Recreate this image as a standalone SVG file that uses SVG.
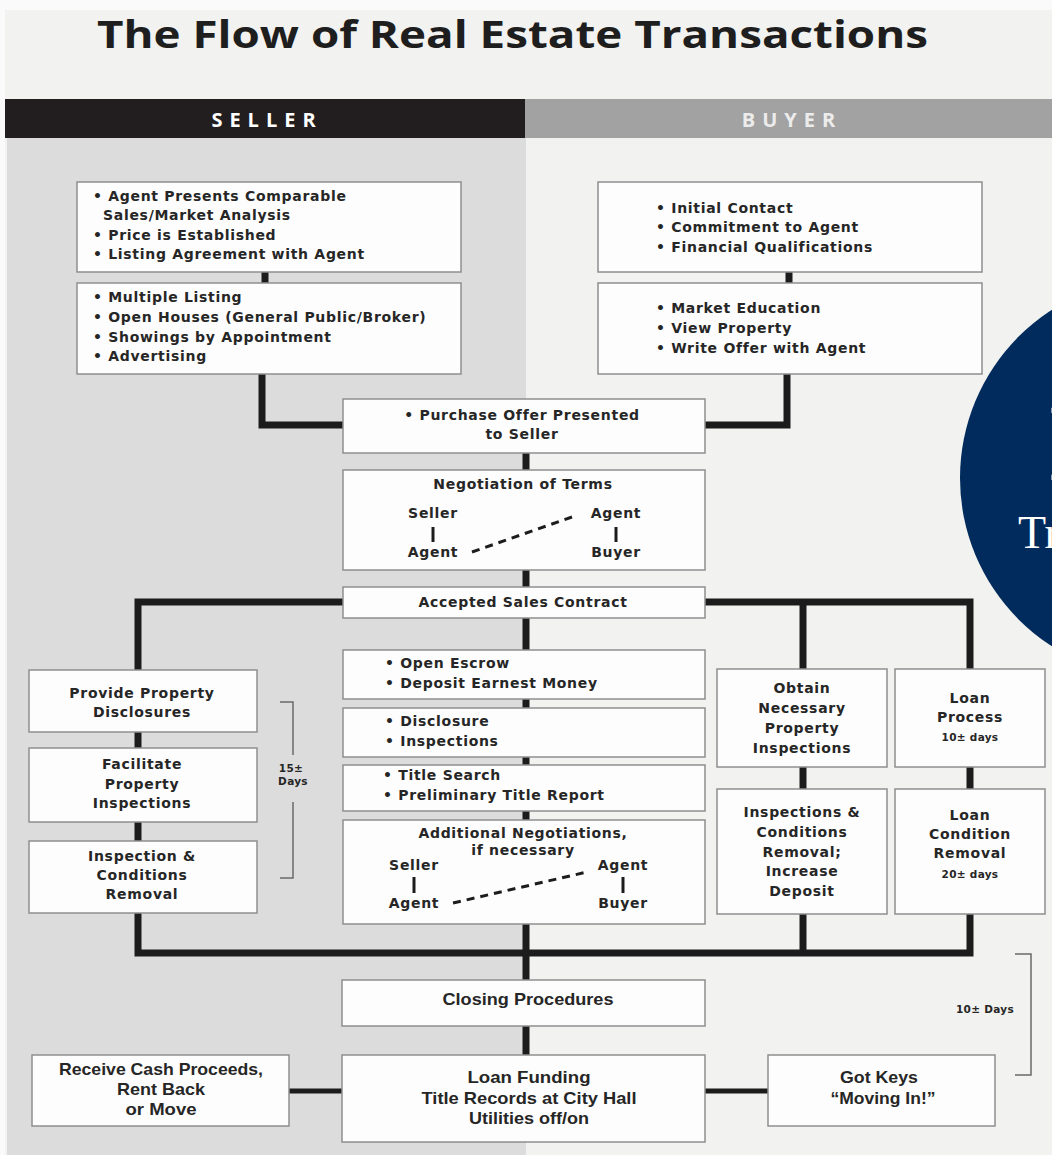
<svg xmlns="http://www.w3.org/2000/svg" width="1052" height="1155" viewBox="0 0 1052 1155">
<style>
.t{font-family:"DejaVu Sans","Open Sans",sans-serif;font-weight:700;font-size:14px;letter-spacing:0.7px;fill:#262626}
.m{text-anchor:middle}
.s{font-size:10.5px;letter-spacing:0.3px}
.n{font-family:"Liberation Sans",Arial,sans-serif;font-weight:700;font-size:17px;fill:#262626;text-anchor:middle}
.box{fill:#fdfdfd;stroke:#8e8e8e;stroke-width:1.5}
.k{fill:none;stroke:#1c1c1c;stroke-width:7;stroke-linejoin:miter}
.k5{fill:none;stroke:#1c1c1c;stroke-width:5}
.br{fill:none;stroke:#6a6a6a;stroke-width:1.5}
.d{fill:none;stroke:#1c1c1c;stroke-width:3;stroke-dasharray:8 6}
.v{fill:none;stroke:#1c1c1c;stroke-width:3}
</style>
<rect x="0" y="0" width="1052" height="1155" fill="#fafafa"/>
<rect x="5" y="10" width="1047" height="1145" fill="#f2f2f0"/>
<g id="title"><text x="97" y="48" font-family="Open Sans,Liberation Sans,sans-serif" font-weight="700" font-size="37" fill="#1e1e1e" textLength="831" lengthAdjust="spacingAndGlyphs">The Flow of Real Estate Transactions</text></g>
<g id="header">
<rect x="5" y="99" width="520" height="39" fill="#221e1f"/>
<rect x="525" y="99" width="527" height="39" fill="#a2a2a2"/>
<text x="267" y="127" font-family="Open Sans,Liberation Sans,sans-serif" font-weight="700" font-size="20" fill="#ffffff" text-anchor="middle" letter-spacing="7">SELLER</text>
<text x="792" y="127" font-family="Open Sans,Liberation Sans,sans-serif" font-weight="700" font-size="20" fill="#ececec" text-anchor="middle" letter-spacing="7">BUYER</text>
</g>
<rect x="7" y="138" width="519" height="1017" fill="#dcdcdc"/>

<g id="connectors">
<line class="k" x1="265" y1="272" x2="265" y2="283"/>
<line class="k" x1="789" y1="272" x2="789" y2="283"/>
<path class="k" d="M262 374 V425 H343"/>
<path class="k" d="M787 374 V425 H705"/>
<line class="k" x1="526" y1="453" x2="526" y2="470"/>
<line class="k" x1="526" y1="570" x2="526" y2="587"/>
<path class="k" d="M343 602 H138 V670"/>
<path class="k" d="M705 602 H970 V669"/>
<line class="k" x1="803" y1="602" x2="803" y2="669"/>
<line class="k" x1="526" y1="618" x2="526" y2="650"/>
<line class="k" x1="526" y1="699" x2="526" y2="708"/>
<line class="k" x1="526" y1="757" x2="526" y2="765"/>
<line class="k" x1="526" y1="811" x2="526" y2="820"/>
<line class="k" x1="138" y1="732" x2="138" y2="748"/>
<line class="k" x1="138" y1="822" x2="138" y2="841"/>
<line class="k" x1="803" y1="767" x2="803" y2="789"/>
<line class="k" x1="970" y1="767" x2="970" y2="789"/>
<path class="k" d="M138 913 V953 H970 V914"/>
<line class="k" x1="803" y1="914" x2="803" y2="953"/>
<line class="k" x1="526" y1="924" x2="526" y2="980"/>
<line class="k" x1="526" y1="1026" x2="526" y2="1055"/>
<line class="k5" x1="289" y1="1091" x2="342" y2="1091"/>
<line class="k5" x1="705" y1="1091" x2="768" y2="1091"/>
</g>

<g id="seller-listing">
<rect class="box" x="77" y="182" width="384" height="90"/>
<text class="t" x="93" y="201">• Agent Presents Comparable</text>
<text class="t" x="103" y="220">Sales/Market Analysis</text>
<text class="t" x="93" y="240">• Price is Established</text>
<text class="t" x="93" y="259">• Listing Agreement with Agent</text>
</g>
<g id="seller-marketing">
<rect class="box" x="77" y="283" width="384" height="91"/>
<text class="t" x="93" y="302">• Multiple Listing</text>
<text class="t" x="93" y="322">• Open Houses (General Public/Broker)</text>
<text class="t" x="93" y="342">• Showings by Appointment</text>
<text class="t" x="93" y="361">• Advertising</text>
</g>
<g id="buyer-contact">
<rect class="box" x="598" y="182" width="384" height="90"/>
<text class="t" x="656" y="213">• Initial Contact</text>
<text class="t" x="656" y="232">• Commitment to Agent</text>
<text class="t" x="656" y="252">• Financial Qualifications</text>
</g>
<g id="buyer-search">
<rect class="box" x="598" y="283" width="384" height="91"/>
<text class="t" x="656" y="313">• Market Education</text>
<text class="t" x="656" y="333">• View Property</text>
<text class="t" x="656" y="353">• Write Offer with Agent</text>
</g>
<g id="circle">
<circle cx="1160" cy="478" r="200" fill="#002b5c"/>
<text x="1046" y="480" font-family="DejaVu Serif,Liberation Serif,serif" font-size="100" fill="#ffffff">I</text>
<text x="1018" y="548" font-family="Liberation Serif,serif" font-size="46" fill="#ffffff">Tr</text>
</g>
<g id="purchase-offer">
<rect class="box" x="343" y="399" width="362" height="54"/>
<text class="t m" x="522" y="420">• Purchase Offer Presented</text>
<text class="t m" x="522" y="439">to Seller</text>
</g>
<g id="negotiation">
<rect class="box" x="343" y="470" width="362" height="100"/>
<text class="t m" x="523" y="489">Negotiation of Terms</text>
<text class="t m" x="433" y="518">Seller</text>
<line class="v" x1="433" y1="527" x2="433" y2="542"/>
<text class="t m" x="433" y="557">Agent</text>
<text class="t m" x="616" y="518">Agent</text>
<line class="v" x1="616" y1="527" x2="616" y2="542"/>
<text class="t m" x="616" y="557">Buyer</text>
<line class="d" x1="472" y1="552" x2="572" y2="517"/>
</g>
<g id="accepted">
<rect class="box" x="343" y="587" width="362" height="31"/>
<text class="t m" x="523" y="607">Accepted Sales Contract</text>
</g>
<g id="provide-disclosures">
<rect class="box" x="29" y="670" width="228" height="62"/>
<text class="t m" x="142" y="698">Provide Property</text>
<text class="t m" x="142" y="717">Disclosures</text>
</g>
<g id="facilitate">
<rect class="box" x="29" y="748" width="228" height="74"/>
<text class="t m" x="142" y="769">Facilitate</text>
<text class="t m" x="142" y="789">Property</text>
<text class="t m" x="142" y="808">Inspections</text>
</g>
<g id="seller-removal">
<rect class="box" x="29" y="841" width="228" height="72"/>
<text class="t m" x="142" y="861">Inspection &amp;</text>
<text class="t m" x="142" y="880">Conditions</text>
<text class="t m" x="142" y="899">Removal</text>
</g>
<g id="days15">
<path class="br" d="M280 702 H293 V755 M293 802 V878 H280"/>
<text class="t m s" x="291" y="772">15±</text>
<text class="t m s" x="293" y="785">Days</text>
</g>
<g id="escrow">
<rect class="box" x="343" y="650" width="362" height="49"/>
<text class="t" x="385" y="668">• Open Escrow</text>
<text class="t" x="385" y="688">• Deposit Earnest Money</text>
</g>
<g id="disclosure">
<rect class="box" x="343" y="708" width="362" height="49"/>
<text class="t" x="385" y="726">• Disclosure</text>
<text class="t" x="385" y="746">• Inspections</text>
</g>
<g id="title-search">
<rect class="box" x="343" y="765" width="362" height="46"/>
<text class="t" x="383" y="780">• Title Search</text>
<text class="t" x="383" y="800">• Preliminary Title Report</text>
</g>
<g id="additional">
<rect class="box" x="343" y="820" width="362" height="104"/>
<text class="t m" x="523" y="838">Additional Negotiations,</text>
<text class="t m" x="523" y="855">if necessary</text>
<text class="t m" x="414" y="870">Seller</text>
<line class="v" x1="414" y1="877" x2="414" y2="893"/>
<text class="t m" x="414" y="908">Agent</text>
<text class="t m" x="623" y="870">Agent</text>
<line class="v" x1="623" y1="877" x2="623" y2="893"/>
<text class="t m" x="623" y="908">Buyer</text>
<line class="d" x1="453" y1="903" x2="587" y2="872"/>
</g>
<g id="obtain">
<rect class="box" x="717" y="669" width="170" height="98"/>
<text class="t m" x="802" y="693">Obtain</text>
<text class="t m" x="802" y="713">Necessary</text>
<text class="t m" x="802" y="733">Property</text>
<text class="t m" x="802" y="753">Inspections</text>
</g>
<g id="loan-process">
<rect class="box" x="895" y="669" width="150" height="98"/>
<text class="t m" x="970" y="703">Loan</text>
<text class="t m" x="970" y="722">Process</text>
<text class="t m s" x="970" y="741">10± days</text>
</g>
<g id="buyer-removal">
<rect class="box" x="717" y="789" width="170" height="125"/>
<text class="t m" x="802" y="817">Inspections &amp;</text>
<text class="t m" x="802" y="837">Conditions</text>
<text class="t m" x="802" y="857">Removal;</text>
<text class="t m" x="802" y="876">Increase</text>
<text class="t m" x="802" y="896">Deposit</text>
</g>
<g id="loan-condition">
<rect class="box" x="895" y="789" width="150" height="125"/>
<text class="t m" x="970" y="820">Loan</text>
<text class="t m" x="970" y="839">Condition</text>
<text class="t m" x="970" y="858">Removal</text>
<text class="t m s" x="970" y="878">20± days</text>
</g>
<g id="closing">
<rect class="box" x="342" y="980" width="363" height="46"/>
<text class="n" x="528" y="1005" textLength="171" lengthAdjust="spacingAndGlyphs">Closing Procedures</text>
</g>
<g id="loan-funding">
<rect class="box" x="342" y="1055" width="363" height="87"/>
<text class="n" x="529" y="1083" textLength="123" lengthAdjust="spacingAndGlyphs">Loan Funding</text>
<text class="n" x="529" y="1104" textLength="215" lengthAdjust="spacingAndGlyphs">Title Records at City Hall</text>
<text class="n" x="529" y="1124" textLength="120" lengthAdjust="spacingAndGlyphs">Utilities off/on</text>
</g>
<g id="cash-proceeds">
<rect class="box" x="32" y="1055" width="257" height="71"/>
<text class="n" x="161" y="1075" textLength="204" lengthAdjust="spacingAndGlyphs">Receive Cash Proceeds,</text>
<text class="n" x="161" y="1095" textLength="88" lengthAdjust="spacingAndGlyphs">Rent Back</text>
<text class="n" x="161" y="1115" textLength="71" lengthAdjust="spacingAndGlyphs">or Move</text>
</g>
<g id="got-keys">
<rect class="box" x="768" y="1055" width="227" height="71"/>
<text class="n" x="879" y="1083" textLength="78" lengthAdjust="spacingAndGlyphs">Got Keys</text>
<text class="n" x="883" y="1104" textLength="105" lengthAdjust="spacingAndGlyphs">“Moving In!”</text>
</g>
<g id="days10">
<path class="br" d="M1015 954 H1031 V1075 H1015"/>
<text class="t m s" x="985" y="1013">10± Days</text>
</g>
</svg>
